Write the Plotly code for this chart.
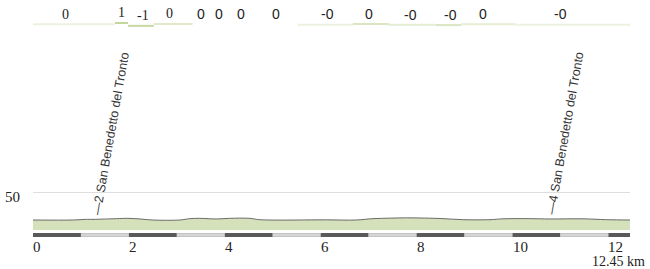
import plotly.graph_objects as go

# ---------------- data ----------------
profile_km = [0, 0.84, 1.1, 1.25, 1.74, 1.98, 2.23, 2.5, 3.06, 3.27, 3.48, 3.83, 4.1, 4.52,
              4.73, 6.12, 6.74, 7.09, 7.44, 7.79, 8.07, 8.49, 8.97, 9.53, 9.8, 10.36,
              10.78, 11.47, 11.96, 12.45]
profile_elev = [-1.6, -1.6, -0.4, -0.4, 0.9, 1.5, 0.3, -1.6, -1.6, 0.9, 1.5, 0.3, 1.5, 1.5,
                -1.0, -1.3, -1.6, 0.9, 1.8, 2.4, 2.1, 1.2, -1.0, -1.0, 0.6, 0.9,
                0.3, 0.6, -1.0, -1.6]

seg_bounds_km = [0, 1.71, 1.98, 2.52, 3.33, 3.69, 4.06, 4.58, 5.52, 6.67, 7.42, 8.39, 8.93, 10.06, 12.45]
seg_gradient = [0.1, 1.0, -0.9, 0.3, 0.0, 0.0, 0.0, 0.0, -0.1, 0.4, -0.2, -0.4, 0.2, -0.1]
seg_label_km = [0.67, 1.85, 2.29, 2.85, 3.51, 3.88, 4.33, 5.06, 6.15, 7.0, 7.87, 8.71, 9.38, 11.0]

waypoint_km = [1.31, 10.8]
waypoint_elev = [-0.4, 0.3]
waypoint_label = ["\u20142 San Benedetto del Tronto", "\u20144 San Benedetto del Tronto"]

x_ticks = [0, 2, 4, 6, 8, 10, 12]
total_km = 12.45
y_ticks = [50]

# ---------------- layout constants ----------------
W, H = 650, 269
BASE_ELEV = -20.0          # bottom of the filled profile
M_PER_PX = 1.842
BASE_PX = 230              # pixel row of BASE_ELEV
y_top = BASE_ELEV + BASE_PX * M_PER_PX
y_bot = BASE_ELEV - (H - BASE_PX) * M_PER_PX

SERIF = "Liberation Serif, Times New Roman, DejaVu Serif, serif"
SANS = "Liberation Sans, Arial, sans-serif"


def py(px):
    """pixel row -> paper y"""
    return 1 - px / H


fig = go.Figure()

fig.add_trace(go.Scatter(x=[profile_km[0], profile_km[-1]], y=[BASE_ELEV, BASE_ELEV],
                         mode="lines", line=dict(width=0), hoverinfo="skip", showlegend=False))
fig.add_trace(go.Scatter(x=profile_km, y=profile_elev, mode="lines", fill="tonexty",
                         fillcolor="#d5e1ba", line=dict(color="#6b6b6b", width=1),
                         line_shape="spline", showlegend=False, hoverinfo="skip"))

shapes = []
# km bar
for k in range(int(total_km) + 1):
    x0 = k
    x1 = min(k + 1, total_km)
    dark = (k % 2 == 0)
    shapes.append(dict(type="rect", xref="x", yref="paper", x0=x0, x1=x1,
                       y0=py(237), y1=py(233), line=dict(width=0),
                       fillcolor="#5a5a5a" if dark else "#c4c4c4", layer="above"))
    if not dark:
        shapes.append(dict(type="line", xref="x", yref="paper", x0=x0, x1=x1,
                           y0=py(235), y1=py(235), line=dict(color="#e6e6e6", width=1)))

# gradient underlines
def grad_color(g):
    t = min(1.0, abs(g) ** 0.5) if abs(g) >= 0.05 else 0.0
    c0 = (255, 255, 255)
    c1 = (196, 214, 158)
    return "rgb(%d,%d,%d)" % tuple(round(a + (b - a) * t) for a, b in zip(c0, c1))

for i, g in enumerate(seg_gradient):
    yy = 24.5 - g * 1.5
    shapes.append(dict(type="line", xref="x", yref="paper",
                       x0=seg_bounds_km[i], x1=seg_bounds_km[i + 1],
                       y0=py(yy), y1=py(yy), line=dict(color=grad_color(g), width=2)))

annotations = []
for i, (g, xk) in enumerate(zip(seg_gradient, seg_label_km)):
    txt = f"{round(g):.0f}" if abs(g) >= 0.5 else ("-0" if g < 0 else "0")
    fam = SERIF if i < 4 else SANS
    annotations.append(dict(x=xk, xref="x", y=py(14.3 - g * 1.5), yref="paper",
                            text=txt, showarrow=False, xanchor="center", yanchor="middle",
                            font=dict(family=fam, size=14, color="#222")))

for xk in x_ticks:
    annotations.append(dict(x=xk, xref="x", y=py(247), yref="paper", text=str(xk),
                            showarrow=False, xanchor="left", yanchor="middle", xshift=-1,
                            borderpad=0,
                            font=dict(family=SERIF, size=15, color="#222")))
annotations.append(dict(x=total_km, xref="x", y=py(261), yref="paper",
                        text=f"{total_km} km", showarrow=False, xanchor="right",
                        yanchor="middle", xshift=16, borderpad=0,
                        font=dict(family=SERIF, size=14, color="#222")))

for xk, ye, lab in zip(waypoint_km, waypoint_elev, waypoint_label):
    annotations.append(dict(x=xk, xref="x", y=ye, yref="y", text=lab, showarrow=False,
                            textangle=-80, xanchor="left", yanchor="bottom",
                            xshift=-9, yshift=1,
                            font=dict(family=SANS, size=12.5, color="#333")))

fig.update_layout(
    width=W, height=H,
    margin=dict(l=33, r=20, t=0, b=0),
    paper_bgcolor="white", plot_bgcolor="white",
    shapes=shapes, annotations=annotations,
    xaxis=dict(range=[0, total_km], showgrid=False, zeroline=False, showticklabels=False,
               showline=False, fixedrange=True),
    yaxis=dict(range=[y_bot, y_top], tickvals=y_ticks, ticktext=[str(v) for v in y_ticks],
               showgrid=True, gridcolor="#dedede", gridwidth=1, zeroline=False,
               showline=False, ticks="", ticklabelstandoff=12, ticklabelshift=5,
               tickfont=dict(family=SERIF, size=15, color="#222"),
               fixedrange=True),
    showlegend=False,
)

fig.write_html("out.html")
